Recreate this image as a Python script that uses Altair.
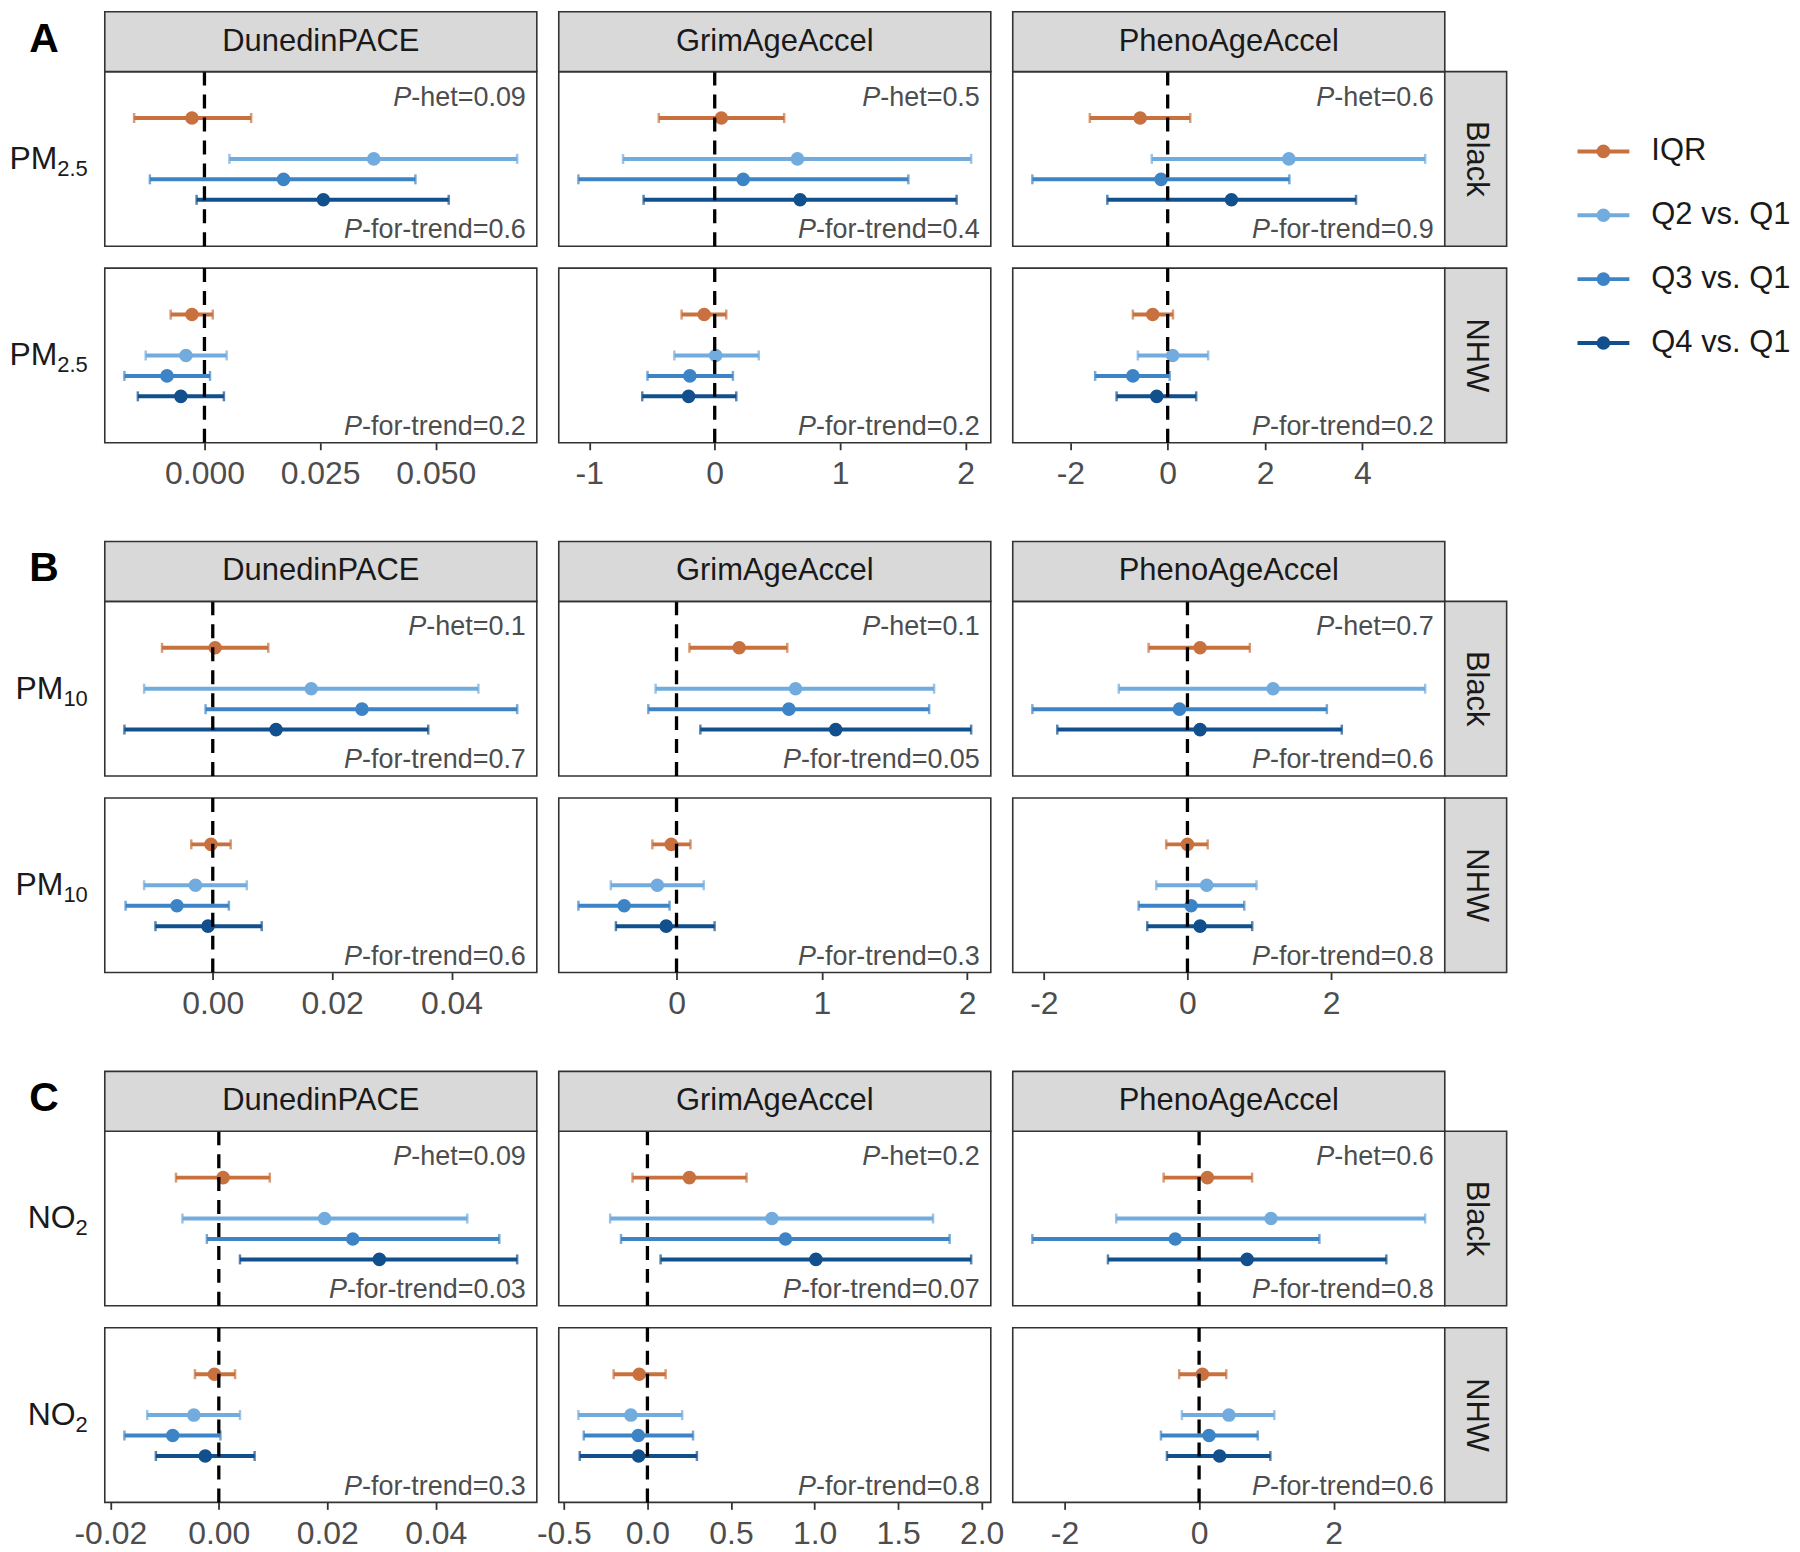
import altair as alt
import pandas as pd

CLOCKS = ["DunedinPACE", "GrimAgeAccel", "PhenoAgeAccel"]
GROUPS = ["Black", "NHW"]
TERMS = ["IQR", "Q2 vs. Q1", "Q3 vs. Q1", "Q4 vs. Q1"]
TERM_COLORS = ["#c8703e", "#72abdd", "#3d84c6", "#124f8d"]
BLOCK_LETTERS = ["A", "B", "C"]
POLLUTANT_MAIN = ["PM", "PM", "NO"]
POLLUTANT_SUB = ["2.5", "10", "2"]

# (estimate, lower CI, upper CI) for IQR, Q2 vs Q1, Q3 vs Q1, Q4 vs Q1
A_DUN_BLACK = [(-0.0027, -0.0152, 0.0101), (0.0366, 0.0054, 0.0676), (0.0171, -0.0118, 0.0456), (0.0257, -0.0017, 0.0528)]
A_DUN_NHW = [(-0.0027, -0.0073, 0.0018), (-0.0040, -0.0127, 0.0048), (-0.0081, -0.0173, 0.0012), (-0.0051, -0.0144, 0.0042)]
A_GRIM_BLACK = [(0.053, -0.446, 0.554), (0.660, -0.731, 2.045), (0.227, -1.087, 1.544), (0.681, -0.567, 1.929)]
A_GRIM_NHW = [(-0.084, -0.264, 0.092), (0.008, -0.322, 0.351), (-0.198, -0.536, 0.145), (-0.208, -0.578, 0.172)]
A_PHENO_BLACK = [(-0.565, -1.60, 0.463), (2.49, -0.327, 5.29), (-0.136, -2.78, 2.50), (1.31, -1.24, 3.87)]
A_PHENO_NHW = [(-0.307, -0.715, 0.109), (0.102, -0.613, 0.831), (-0.715, -1.49, 0.041), (-0.225, -1.05, 0.586)]

B_DUN_BLACK = [(0.0004, -0.0085, 0.0093), (0.0165, -0.0115, 0.0445), (0.0250, -0.0012, 0.0510), (0.0106, -0.0148, 0.0361)]
B_DUN_NHW = [(-0.0003, -0.0036, 0.0030), (-0.0029, -0.0115, 0.0057), (-0.0060, -0.0146, 0.0027), (-0.0008, -0.0096, 0.0082)]
B_GRIM_BLACK = [(0.431, 0.089, 0.762), (0.819, -0.144, 1.772), (0.773, -0.194, 1.738), (1.095, 0.164, 2.027)]
B_GRIM_NHW = [(-0.036, -0.166, 0.096), (-0.132, -0.452, 0.187), (-0.360, -0.675, -0.048), (-0.071, -0.417, 0.262)]
B_PHENO_BLACK = [(0.176, -0.541, 0.869), (1.193, -0.957, 3.311), (-0.111, -2.16, 1.942), (0.176, -1.813, 2.150)]
B_PHENO_NHW = [(0.0, -0.296, 0.282), (0.268, -0.435, 0.962), (0.051, -0.680, 0.791), (0.176, -0.560, 0.902)]

C_DUN_BLACK = [(0.0008, -0.0079, 0.0094), (0.0195, -0.0067, 0.0458), (0.0247, -0.0022, 0.0517), (0.0296, 0.0039, 0.0550)]
C_DUN_NHW = [(-0.0008, -0.0044, 0.0030), (-0.0046, -0.0132, 0.0039), (-0.0085, -0.0174, 0.0003), (-0.0025, -0.0116, 0.0066)]
C_GRIM_BLACK = [(0.251, -0.089, 0.593), (0.745, -0.223, 1.709), (0.826, -0.158, 1.808), (1.008, 0.079, 1.937)]
C_GRIM_NHW = [(-0.049, -0.202, 0.109), (-0.099, -0.413, 0.208), (-0.055, -0.381, 0.273), (-0.053, -0.405, 0.296)]
C_PHENO_BLACK = [(0.123, -0.527, 0.788), (1.069, -1.232, 3.36), (-0.355, -2.478, 1.788), (0.714, -1.355, 2.783)]
C_PHENO_NHW = [(0.049, -0.296, 0.404), (0.443, -0.256, 1.118), (0.148, -0.567, 0.872), (0.305, -0.478, 1.059)]

A_PHET = ["0.09", "0.5", "0.6"]
A_PTREND_BLACK = ["0.6", "0.4", "0.9"]
A_PTREND_NHW = ["0.2", "0.2", "0.2"]
B_PHET = ["0.1", "0.1", "0.7"]
B_PTREND_BLACK = ["0.7", "0.05", "0.6"]
B_PTREND_NHW = ["0.6", "0.3", "0.8"]
C_PHET = ["0.09", "0.2", "0.6"]
C_PTREND_BLACK = ["0.03", "0.07", "0.8"]
C_PTREND_NHW = ["0.3", "0.8", "0.6"]

A_TICKS = [[0, 0.025, 0.05], [-1, 0, 1, 2], [-2, 0, 2, 4]]
B_TICKS = [[0, 0.02, 0.04], [0, 1, 2], [-2, 0, 2]]
C_TICKS = [[-0.02, 0, 0.02, 0.04], [-0.5, 0, 0.5, 1, 1.5, 2], [-2, 0, 2]]
A_DEC = [3, 0, 0]
B_DEC = [2, 0, 0]
C_DEC = [2, 1, 0]

BLOCKS = [
    dict(data={"DunedinPACE": (A_DUN_BLACK, A_DUN_NHW), "GrimAgeAccel": (A_GRIM_BLACK, A_GRIM_NHW),
               "PhenoAgeAccel": (A_PHENO_BLACK, A_PHENO_NHW)},
         phet=A_PHET, tb=A_PTREND_BLACK, tn=A_PTREND_NHW, ticks=A_TICKS, dec=A_DEC),
    dict(data={"DunedinPACE": (B_DUN_BLACK, B_DUN_NHW), "GrimAgeAccel": (B_GRIM_BLACK, B_GRIM_NHW),
               "PhenoAgeAccel": (B_PHENO_BLACK, B_PHENO_NHW)},
         phet=B_PHET, tb=B_PTREND_BLACK, tn=B_PTREND_NHW, ticks=B_TICKS, dec=B_DEC),
    dict(data={"DunedinPACE": (C_DUN_BLACK, C_DUN_NHW), "GrimAgeAccel": (C_GRIM_BLACK, C_GRIM_NHW),
               "PhenoAgeAccel": (C_PHENO_BLACK, C_PHENO_NHW)},
         phet=C_PHET, tb=C_PTREND_BLACK, tn=C_PTREND_NHW, ticks=C_TICKS, dec=C_DEC),
]

# ---- layout / style ----
W, H, STRIP, SIDE = 433, 175, 60, 62
TERM_POS = [1, 3, 4, 5]
HET_POS, TREND_POS = 0, 6.5
Y_DOM = [-1.27, 7.27]
FONT = "Liberation Sans"
ANN_SIZE = 27
ANN_COLOR = "#4d4d4d"
TXT_COLOR = "#1a1a1a"
STRIP_FILL = "#d9d9d9"
EDGE = "#333333"
BAR_W = 4
PT_SIZE = 185

AW = {'P': .667, '-': .333, 'h': .556, 'e': .556, 't': .278, '=': .584, '.': .278,
      'f': .278, 'o': .556, 'r': .333, 'n': .556, 'd': .556}


def tw(s, size):
    return sum(AW.get(c, 0.556) for c in s) * size


color_enc = alt.Color("term:N", scale=alt.Scale(domain=TERMS, range=TERM_COLORS), legend=None)


def annotation(rest, pos):
    df = pd.DataFrame({"rest": [rest], "p": ["P"], "pos": [pos]})
    ys = alt.Scale(domain=Y_DOM, reverse=True, nice=False, zero=False)
    t_rest = alt.Chart(df).mark_text(align="right", baseline="middle", fontSize=ANN_SIZE, color=ANN_COLOR).encode(
        x=alt.value(W - 11), y=alt.Y("pos:Q", scale=ys, axis=None), text="rest:N")
    t_p = alt.Chart(df).mark_text(align="right", baseline="middle", fontSize=ANN_SIZE, color=ANN_COLOR,
                                  fontStyle="italic", dx=-tw(rest, ANN_SIZE)).encode(
        x=alt.value(W - 11), y=alt.Y("pos:Q", scale=ys, axis=None), text="p:N")
    return [t_rest, t_p]


def panel(bi, ci, gi):
    block = BLOCKS[bi]
    clock = CLOCKS[ci]
    rows = block["data"][clock][gi]
    both = block["data"][clock][0] + block["data"][clock][1]
    vals = [r[1] for r in both] + [r[2] for r in both] + [0]
    lo, hi = min(vals), max(vals)
    pad = 0.05 * (hi - lo)
    xs = alt.Scale(domain=[lo - pad, hi + pad], nice=False, zero=False)
    ys = alt.Scale(domain=Y_DOM, reverse=True, nice=False, zero=False)
    if gi == 1:
        d = block["dec"][ci]
        axis = alt.Axis(values=block["ticks"][ci],
                        labelExpr="replace(format(datum.value, '.%df'), '\u2212', '-')" % d,
                        tickSize=7, tickWidth=1.8, tickColor=EDGE, domain=False, grid=False,
                        labelFontSize=32, labelColor=ANN_COLOR, labelPadding=9,
                        labelOverlap=False, labelFlush=False)
    else:
        axis = None

    df = pd.DataFrame({
        "term": TERMS,
        "est": [r[0] for r in rows],
        "lo": [r[1] for r in rows],
        "hi": [r[2] for r in rows],
        "pos": TERM_POS,
    })
    base = alt.Chart(df)
    Y = alt.Y("pos:Q", scale=ys, axis=None)

    def X(f):
        return alt.X(f, type="quantitative", scale=xs, axis=axis, title=None)

    layers = []
    layers.append(base.mark_rule(strokeWidth=BAR_W).encode(x=X("lo"), x2="hi:Q", y=Y, color=color_enc))
    layers.append(base.mark_tick(orient="vertical", size=10, thickness=2.5).encode(x=X("lo"), y=Y, color=color_enc))
    layers.append(base.mark_tick(orient="vertical", size=10, thickness=2.5).encode(x=X("hi"), y=Y, color=color_enc))
    layers.append(base.mark_circle(size=PT_SIZE, opacity=1).encode(x=X("est"), y=Y, color=color_enc))
    layers.append(alt.Chart(pd.DataFrame({"z": [0]})).mark_rule(
        strokeDash=[14, 9], strokeWidth=3.3, color="black").encode(x=X("z")))

    if gi == 0:
        layers += annotation("-het=" + block["phet"][ci], HET_POS)
        layers += annotation("-for-trend=" + block["tb"][ci], TREND_POS)
        # top strip
        sdf = pd.DataFrame({"label": [clock]})
        layers.append(alt.Chart(sdf).mark_rect(fill=STRIP_FILL, stroke=EDGE, strokeWidth=1.6).encode(
            x=alt.value(0), x2=alt.value(W), y=alt.value(-STRIP), y2=alt.value(0)))
        layers.append(alt.Chart(sdf).mark_text(fontSize=31, color=TXT_COLOR, baseline="middle", align="center").encode(
            x=alt.value(W / 2), y=alt.value(-STRIP / 2), text="label:N"))
    else:
        layers += annotation("-for-trend=" + block["tn"][ci], TREND_POS)

    if ci == 2:
        gdf = pd.DataFrame({"label": [GROUPS[gi]]})
        layers.append(alt.Chart(gdf).mark_rect(fill=STRIP_FILL, stroke=EDGE, strokeWidth=1.6).encode(
            x=alt.value(W), x2=alt.value(W + SIDE), y=alt.value(0), y2=alt.value(H)))
        layers.append(alt.Chart(gdf).mark_text(fontSize=31, color=TXT_COLOR, baseline="middle", align="center",
                                               angle=90).encode(
            x=alt.value(W + SIDE / 2), y=alt.value(H / 2), text="label:N"))

    if ci == 0:
        sub = POLLUTANT_SUB[bi]
        sub_w = tw(sub, 22)
        ldf = pd.DataFrame({"main": [POLLUTANT_MAIN[bi]], "sub": [sub]})
        layers.append(alt.Chart(ldf).mark_text(fontSize=32, color=TXT_COLOR, align="right",
                                               baseline="alphabetic").encode(
            x=alt.value(-17 - sub_w), y=alt.value(H / 2 + 10), text="main:N"))
        layers.append(alt.Chart(ldf).mark_text(fontSize=22, color=TXT_COLOR, align="left",
                                               baseline="alphabetic").encode(
            x=alt.value(-17 - sub_w), y=alt.value(H / 2 + 17), text="sub:N"))
        if gi == 0:
            kdf = pd.DataFrame({"letter": [BLOCK_LETTERS[bi]]})
            layers.append(alt.Chart(kdf).mark_text(fontSize=41, fontWeight="bold", color="black",
                                                   align="center", baseline="middle").encode(
                x=alt.value(-61), y=alt.value(-32), text="letter:N"))

    chart = alt.layer(*layers)

    if bi == 0 and ci == 2 and gi == 0:
        leg_df = pd.DataFrame({"term": TERMS})
        LY = alt.Y("term:N", scale=alt.Scale(type="point", domain=TERMS, range=[80, 272], padding=0), axis=None)
        lx0, lx1, ltx = W + 133, W + 185, W + 207
        leg = alt.layer(
            alt.Chart(leg_df).mark_rule(strokeWidth=BAR_W).encode(
                x=alt.value(lx0), x2=alt.value(lx1), y=LY, color=color_enc),
            alt.Chart(leg_df).mark_circle(size=PT_SIZE, opacity=1).encode(
                x=alt.value((lx0 + lx1) / 2), y=LY, color=color_enc),
            alt.Chart(leg_df).mark_text(fontSize=31, color=TXT_COLOR, align="left", baseline="middle").encode(
                x=alt.value(ltx), y=LY, text="term:N"),
        )
        chart = alt.layer(chart, leg).resolve_scale(y="independent")

    return chart.properties(width=W, height=H)


blocks = []
for bi in range(3):
    cells = [panel(bi, ci, gi) for gi in range(2) for ci in range(3)]
    blocks.append(alt.concat(*cells, columns=3, spacing={"row": 22, "column": 22}, bounds="flush"))

chart = alt.vconcat(*blocks, spacing=49).properties(
    padding={"left": 0, "top": 0, "right": 0, "bottom": 0}
).configure(font=FONT).configure_view(stroke=EDGE, strokeWidth=1.6)

chart.save("out.html", embed_options={"renderer": "svg", "actions": False})
